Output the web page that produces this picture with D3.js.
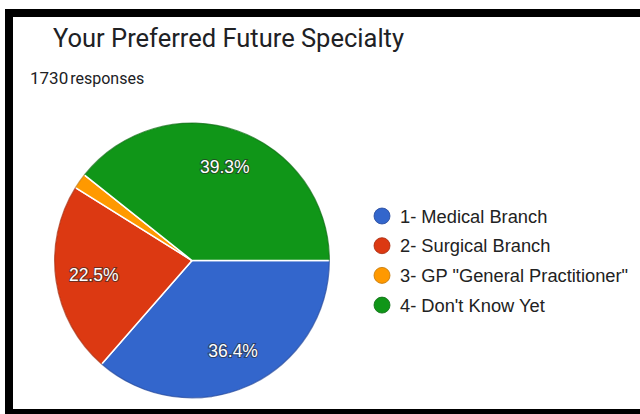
<!DOCTYPE html>
<html>
<head>
<meta charset="utf-8">
<script src="https://cdn.jsdelivr.net/npm/d3@7"></script>
<style>
  html, body { margin: 0; padding: 0; background: #fff; }
  svg { display: block; }
</style>
</head>
<body>
<svg id="chart" width="640" height="414"></svg>
<script>
// Survey answers: "Your Preferred Future Specialty"
const categories = ["1- Medical Branch", "2- Surgical Branch", "3- GP \"General Practitioner\"", "4- Don't Know Yet"];
const counts = [630, 389, 31, 680];
const colors = ["#3366cc", "#dc3912", "#ff9900", "#109618"];
const rimColors = ["#24479a", "#a52a0c", "#c27400", "#0b6b11"];
const totalResponses = 1730;

const svg = d3.select("#chart");

// frame around the card
svg.append("rect").attr("x", 0).attr("y", 0).attr("width", 640).attr("height", 414).attr("fill", "#fff");
svg.append("rect").attr("x", 5).attr("y", 9).attr("width", 640).attr("height", 8).attr("fill", "#000");
svg.append("rect").attr("x", 5).attr("y", 9).attr("width", 8).attr("height", 405).attr("fill", "#000");
svg.append("rect").attr("x", 5).attr("y", 409).attr("width", 640).attr("height", 5).attr("fill", "#000");

// title and response count
svg.append("text")
  .attr("x", 53).attr("y", 47)
  .attr("font-family", "Roboto, 'Noto Sans', sans-serif")
  .attr("font-size", 25.5)
  .attr("fill", "#202124")
  .text("Your Preferred Future Specialty");

const resp = svg.append("text")
  .attr("x", 30).attr("y", 84)
  .attr("font-family", "Roboto, 'Noto Sans', sans-serif")
  .attr("fill", "#202124");
resp.append("tspan").attr("font-size", 17).text(totalResponses);
resp.append("tspan").attr("dx", 2).attr("font-size", 16).text("responses");

// pie
const cx = 192, cy = 260.5, radius = 138;
const total = d3.sum(counts);
const pie = d3.pie().sort(null)
  .startAngle(Math.PI / 2).endAngle(Math.PI / 2 + 2 * Math.PI)
  .value(d => d);
const arcs = pie(counts);
const arc = d3.arc().innerRadius(0).outerRadius(radius);
const rimArc = d3.arc().innerRadius(radius - 1.2).outerRadius(radius);
const labelArc = d3.arc().innerRadius(radius * 0.72).outerRadius(radius * 0.72);

const g = svg.append("g").attr("transform", `translate(${cx},${cy})`);

g.selectAll("path.slice").data(arcs).join("path")
  .attr("class", "slice")
  .attr("d", arc)
  .attr("fill", (d, i) => colors[i])
  .attr("stroke", "#fff")
  .attr("stroke-width", 1.5)
  .attr("stroke-linejoin", "round");

g.selectAll("path.rim").data(arcs).join("path")
  .attr("class", "rim")
  .attr("d", rimArc)
  .attr("fill", (d, i) => rimColors[i])
  .attr("opacity", 0.7);

g.selectAll("text.pct").data(arcs.filter(d => d.value / total > 0.05)).join("text")
  .attr("class", "pct")
  .attr("transform", d => `translate(${labelArc.centroid(d)})`)
  .attr("text-anchor", "middle")
  .attr("dy", "0.36em")
  .attr("font-family", "Arial, 'Liberation Sans', sans-serif")
  .attr("font-size", 17.5)
  .attr("fill", "#fff")
  .attr("stroke", "rgba(40,40,40,0.6)")
  .attr("stroke-width", 2.2)
  .attr("paint-order", "stroke")
  .text(d => (d.value / total * 100).toFixed(1) + "%");

// legend
const legend = svg.append("g").attr("transform", "translate(382,216)");
const rowStep = 29.7;
const items = legend.selectAll("g").data(categories).join("g")
  .attr("transform", (d, i) => `translate(0,${i * rowStep})`);
items.append("circle")
  .attr("r", 8)
  .attr("fill", (d, i) => colors[i])
  .attr("stroke", (d, i) => rimColors[i])
  .attr("stroke-width", 0.8);
items.append("text")
  .attr("x", 18).attr("dy", "0.36em")
  .attr("font-family", "Arial, 'Liberation Sans', sans-serif")
  .attr("font-size", 18.3)
  .attr("fill", "#222")
  .text(d => d);
</script>
</body>
</html>
